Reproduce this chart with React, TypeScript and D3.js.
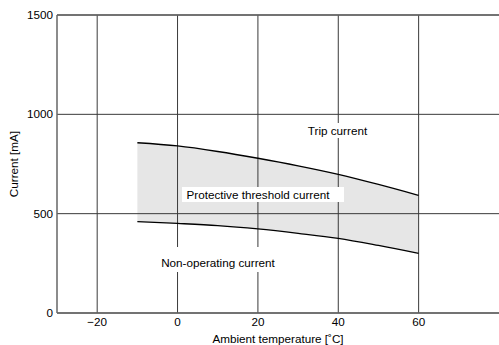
import React from "react";
import * as d3 from "d3";

const temps = [-10, 0, 10, 20, 30, 40, 50, 60];
const tripCurrent = [857, 841, 813, 779, 741, 698, 647, 592];
const nonOperatingCurrent = [460, 451, 440, 423, 401, 376, 340, 300];
const xTicks = [-20, 0, 20, 40, 60];
const yTicks = [0, 500, 1000, 1500];

const W = 499;
const H = 345;
const font = "'Liberation Sans', Arial, sans-serif";
const FS = 11.7;

export default function App() {
  const x = d3.scaleLinear().domain([-30, 80]).range([57, 499]);
  const y = d3.scaleLinear().domain([0, 1500]).range([313, 15]);

  const pts = temps.map((t, i) => ({ t, hi: tripCurrent[i], lo: nonOperatingCurrent[i] }));
  const area = d3
    .area<any>()
    .x((d) => x(d.t))
    .y0((d) => y(d.lo))
    .y1((d) => y(d.hi))
    .curve(d3.curveMonotoneX);
  const lineHi = d3.line<any>().x((d) => x(d.t)).y((d) => y(d.hi)).curve(d3.curveMonotoneX);
  const lineLo = d3.line<any>().x((d) => x(d.t)).y((d) => y(d.lo)).curve(d3.curveMonotoneX);

  const fmt = (v: number) => (v < 0 ? "\u2212" + Math.abs(v) : String(v));

  return (
    <svg
      width={W}
      height={H}
      style={{ position: "absolute", left: 0, top: 0, background: "#fff" }}
      fontFamily={font}
    >
      <path d={area(pts) || ""} fill="#e6e6e6" stroke="none" />
      {xTicks.map((t) => (
        <line key={"gx" + t} x1={x(t)} x2={x(t)} y1={y(1500)} y2={y(0)} stroke="#3a3a3a" strokeWidth={1} />
      ))}
      {yTicks.map((t) => (
        <line key={"gy" + t} x1={x(-30)} x2={x(80)} y1={y(t)} y2={y(t)} stroke="#3a3a3a" strokeWidth={1} />
      ))}
      <line x1={x(-30)} x2={x(-30)} y1={y(1500)} y2={y(0)} stroke="#666" strokeWidth={1.5} />
      <line x1={x(-30)} x2={x(80)} y1={y(0)} y2={y(0)} stroke="#666" strokeWidth={1.5} />
      <line x1={x(-30)} x2={x(80)} y1={y(1500)} y2={y(1500)} stroke="#666" strokeWidth={1.5} />
      <path d={lineHi(pts) || ""} fill="none" stroke="#000" strokeWidth={1.3} />
      <path d={lineLo(pts) || ""} fill="none" stroke="#000" strokeWidth={1.3} />
      {yTicks.map((t) => (
        <text key={"ty" + t} x={53} y={y(t)} dy="0.35em" textAnchor="end" fontSize={FS} fill="#000">
          {t}
        </text>
      ))}
      {xTicks.map((t) => (
        <text key={"tx" + t} x={x(t)} y={322} dy="0.35em" textAnchor="middle" fontSize={FS} fill="#000">
          {fmt(t)}
        </text>
      ))}
      <text x={278} y={338.5} dy="0.35em" textAnchor="middle" fontSize={FS} fill="#000">
        Ambient temperature [˚C]
      </text>
      <text
        transform={`translate(14,${y(750)}) rotate(-90)`}
        dy="0.35em"
        textAnchor="middle"
        fontSize={FS}
        fill="#000"
      >
        Current [mA]
      </text>
      <rect x={303} y={123} width={70} height={15} fill="#fff" />
      <text x={337.5} y={131} dy="0.35em" textAnchor="middle" fontSize={FS} fill="#000">
        Trip current
      </text>
      <rect x={182} y={187} width={162} height={15} fill="#fff" />
      <text x={186.5} y={194.5} dy="0.35em" textAnchor="start" fontSize={FS} fill="#000">
        Protective threshold current
      </text>
      <rect x={155} y={247} width={126} height={25} fill="#fff" />
      <text x={218} y={263} dy="0.35em" textAnchor="middle" fontSize={FS} fill="#000">
        Non-operating current
      </text>
    </svg>
  );
}
